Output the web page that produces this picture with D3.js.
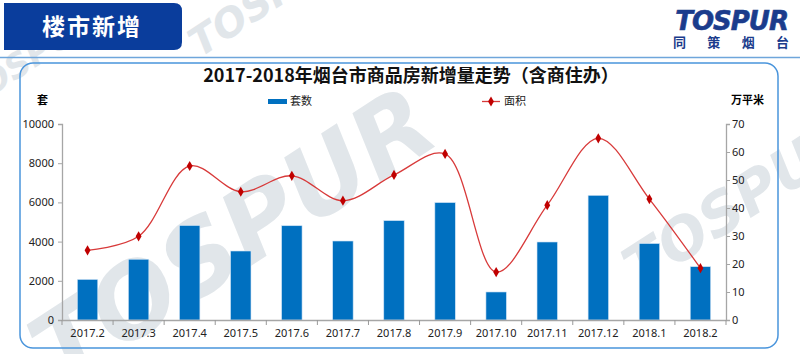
<!DOCTYPE html>
<html>
<head>
<meta charset="utf-8">
<script src="https://cdn.jsdelivr.net/npm/d3@7"></script>
<style>
  body { margin: 0; background: #fff; }
  svg { display: block; font-family: "Noto Sans CJK SC", "Noto Sans", sans-serif; }
</style>
</head>
<body>
<div id="chart"></div>
<script>
var months = ["2017.2", "2017.3", "2017.4", "2017.5", "2017.6", "2017.7", "2017.8",
              "2017.9", "2017.10", "2017.11", "2017.12", "2018.1", "2018.2"];
var units = [2070, 3100, 4820, 3520, 4810, 4030, 5070, 5990, 1430, 3980, 6360, 3900, 2720];
var area = [24.9, 29.9, 55.0, 45.8, 51.5, 42.6, 51.8, 59.3, 17.1, 41.0, 64.9, 43.2, 18.5];
var leftTicks = [0, 2000, 4000, 6000, 8000, 10000];
var rightTicks = [0, 10, 20, 30, 40, 50, 60, 70];

var w = 800, h = 354;
var plotLeft = 62, plotRight = 726, plotTop = 124, plotBottom = 320;

var svg = d3.select("#chart").append("svg")
    .attr("width", w)
    .attr("height", h);

// watermarks
function watermark(x, y, size, angle) {
    svg.append("text")
        .attr("transform", `translate(${x},${y}) rotate(${angle})`)
        .attr("font-family", "DejaVu Sans")
        .attr("font-weight", "bold")
        .attr("font-style", "italic")
        .attr("font-size", size)
        .attr("fill", "#e1e6ea")
        .text("TOSPUR");
}
watermark(60, 390, 100, -33);
watermark(200, 58, 40, -33);
watermark(640, 290, 58, -33);
watermark(-30, 110, 34, -33);

// header block
svg.append("path")
    .attr("d", "M4,3 H174 Q182,3 182,11 V42 Q182,50 174,50 H4 Z")
    .attr("fill", "#0a3d9c");
svg.append("text")
    .attr("x", 92).attr("y", 35)
    .attr("text-anchor", "middle")
    .attr("font-size", 23).attr("font-weight", "bold")
    .attr("fill", "#fff")
    .attr("letter-spacing", 2)
    .text("楼市新增");

// logo
svg.append("text")
    .attr("x", 788).attr("y", 30)
    .attr("text-anchor", "end")
    .attr("font-family", "DejaVu Sans")
    .attr("font-weight", "bold").attr("font-style", "italic")
    .attr("font-size", 26).attr("letter-spacing", -1)
    .attr("fill", "#1b3c8c")
    .attr("stroke", "#1b3c8c").attr("stroke-width", 0.6)
    .text("TOSPUR");
svg.append("text")
    .attr("x", 673).attr("y", 47)
    .attr("font-size", 13).attr("font-weight", "bold")
    .attr("fill", "#1b3c8c")
    .attr("textLength", 116)
    .text("同 策 烟 台");

svg.append("line")
    .attr("x1", 0).attr("x2", w).attr("y1", 57.5).attr("y2", 57.5)
    .attr("stroke", "#6fa6db").attr("stroke-width", 1.5);

svg.append("rect")
    .attr("x", 20).attr("y", 63).attr("width", 758).attr("height", 285)
    .attr("rx", 13)
    .attr("fill", "none").attr("stroke", "#4a95dc").attr("stroke-width", 1.5);

// title
svg.append("text")
    .attr("x", 411).attr("y", 82)
    .attr("text-anchor", "middle")
    .attr("font-size", 18).attr("font-weight", "bold")
    .attr("fill", "#111")
    .text("2017-2018年烟台市商品房新增量走势（含商住办）");

// scales
var x = d3.scaleBand().domain(months).range([plotLeft, plotRight]).paddingInner(0.6).paddingOuter(0.3);
var xTicks = d3.scaleBand().domain(months).range([plotLeft, plotRight]);
var yL = d3.scaleLinear().domain([0, 10000]).range([plotBottom, plotTop]);
var yR = d3.scaleLinear().domain([0, 70]).range([plotBottom, plotTop]);

// bars
svg.selectAll("rect.bar")
    .data(units)
    .enter()
    .append("rect")
    .attr("class", "bar")
    .attr("x", (d, i) => x(months[i]))
    .attr("y", d => yL(d))
    .attr("width", x.bandwidth())
    .attr("height", d => plotBottom - yL(d))
    .attr("fill", "#0070c0")
    .attr("stroke", "#cfe3f5").attr("stroke-width", 0.6);

// axes
var leftAxis = svg.append("g")
    .attr("transform", `translate(${plotLeft},0)`)
    .call(d3.axisLeft(yL).tickValues(leftTicks).tickFormat(d3.format("d")).tickSize(4).tickPadding(4));
var rightAxis = svg.append("g")
    .attr("transform", `translate(${plotRight},0)`)
    .call(d3.axisRight(yR).tickValues(rightTicks).tickFormat(d3.format("d")).tickSize(4).tickPadding(2));
var bottomAxis = svg.append("g")
    .attr("transform", `translate(0,${plotBottom})`)
    .call(d3.axisBottom(xTicks).tickSize(0).tickPadding(9));
bottomAxis.selectAll(".tick line").remove();
bottomAxis.selectAll("line.sep")
    .data(months.concat(["end"]))
    .enter()
    .append("line")
    .attr("class", "sep")
    .attr("x1", (d, i) => plotLeft + i * xTicks.step())
    .attr("x2", (d, i) => plotLeft + i * xTicks.step())
    .attr("y1", 0).attr("y2", 5)
    .attr("stroke", "#999");

[leftAxis, rightAxis, bottomAxis].forEach(function (g) {
    g.selectAll("path.domain").attr("stroke", "#a6a6a6").attr("stroke-width", 1.3);
    g.selectAll(".tick line").attr("stroke", "#a6a6a6");
    g.selectAll("text").attr("font-family", "Noto Sans").attr("font-size", 11).attr("fill", "#222");
});

// line
var cx = (d, i) => xTicks(months[i]) + xTicks.bandwidth() / 2;
var line = d3.line()
    .x(cx)
    .y(d => yR(d))
    .curve(d3.curveCatmullRom.alpha(0.5));
svg.append("path")
    .datum(area)
    .attr("d", line)
    .attr("fill", "none")
    .attr("stroke", "#d83a3a")
    .attr("stroke-width", 1.3);
svg.selectAll("path.marker")
    .data(area)
    .enter()
    .append("path")
    .attr("class", "marker")
    .attr("transform", (d, i) => `translate(${cx(d, i)},${yR(d)})`)
    .attr("d", d3.symbol(d3.symbolDiamond, 30))
    .attr("fill", "#c00000");

// axis titles
svg.append("text")
    .attr("x", 37).attr("y", 104)
    .attr("font-size", 11).attr("font-weight", "bold")
    .text("套");
svg.append("text")
    .attr("x", 731).attr("y", 104)
    .attr("font-size", 11).attr("font-weight", "bold")
    .text("万平米");

// legend
svg.append("rect")
    .attr("x", 268).attr("y", 99).attr("width", 19).attr("height", 5)
    .attr("fill", "#0070c0");
svg.append("text")
    .attr("x", 290).attr("y", 105)
    .attr("font-size", 11).attr("fill", "#222")
    .text("套数");
svg.append("line")
    .attr("x1", 482).attr("x2", 500).attr("y1", 101.5).attr("y2", 101.5)
    .attr("stroke", "#d83a3a").attr("stroke-width", 1.3);
svg.append("path")
    .attr("transform", "translate(491,101.5)")
    .attr("d", d3.symbol(d3.symbolDiamond, 30))
    .attr("fill", "#c00000");
svg.append("text")
    .attr("x", 504).attr("y", 105)
    .attr("font-size", 11).attr("fill", "#222")
    .text("面积");
</script>
</body>
</html>
